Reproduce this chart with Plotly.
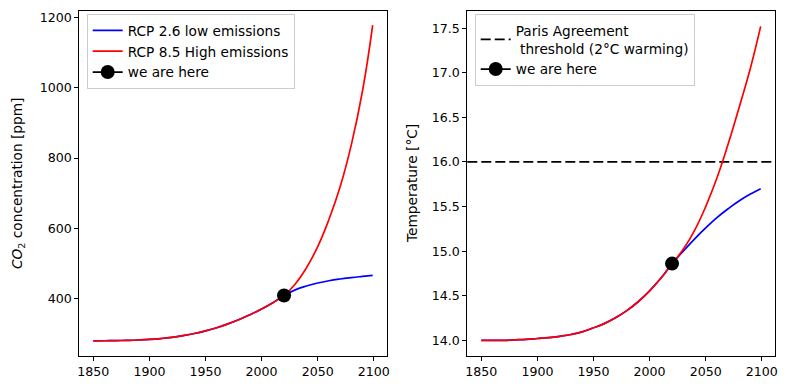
import plotly.graph_objects as go

# ---------------- data ----------------
years = [1850, 1860, 1870, 1880, 1890, 1900, 1910, 1920, 1930, 1940, 1950,
         1960, 1970, 1980, 1990, 2000, 2010, 2020,
         2030, 2040, 2050, 2060, 2070, 2080, 2090, 2099]

# shared historical part (1850-2020)
co2_hist = [280, 280.3, 280.8, 281.5, 282.5, 284, 286.5, 290, 295, 301, 308.5,
            317.5, 328.5, 341, 355, 370.5, 388.5, 409]
temp_hist = [14.00, 14.00, 14.00, 14.005, 14.01, 14.02, 14.03, 14.045, 14.065,
             14.095, 14.14, 14.19, 14.255, 14.335, 14.435, 14.555, 14.695, 14.86]

# scenario part (2030-2099)
co2_rcp26_future = [425, 436, 444.5, 451, 456, 460, 463.5, 466.5]
co2_rcp85_future = [442, 488, 548, 625, 718, 838, 992, 1178]
temp_rcp26_future = [15.00, 15.135, 15.26, 15.375, 15.475, 15.565, 15.64, 15.70]
temp_rcp85_future = [15.02, 15.23, 15.50, 15.82, 16.20, 16.62, 17.06, 17.52]

co2_rcp26 = co2_hist + co2_rcp26_future
co2_rcp85 = co2_hist + co2_rcp85_future
temp_rcp26 = temp_hist + temp_rcp26_future
temp_rcp85 = temp_hist + temp_rcp85_future

now_year = 2020
now_co2 = co2_hist[-1]
now_temp = temp_hist[-1]

paris_threshold = 16.0

x_ticks = [1850, 1900, 1950, 2000, 2050, 2100]
co2_ticks = [400, 600, 800, 1000, 1200]
temp_ticks = [14.0, 14.5, 15.0, 15.5, 16.0, 16.5, 17.0, 17.5]

series_names = ["RCP 2.6 low emissions", "RCP 8.5 High emissions"]
here_name = "we are here"
paris_name = "Paris Agreement<br>\u00a0threshold (2°C warming)"

# ---------------- figure ----------------
FONT = "DejaVu Sans"
FS_TICK = 12.6
FS = 13.7
W, H = 788, 390
LW = 1.7

fig = go.Figure()

for xa, ya, ys, leg_show in [("x", "y", (co2_rcp26, co2_rcp85), True),
                             ("x2", "y2", (temp_rcp26, temp_rcp85), False)]:
    for vals, col, nm in zip(ys, ["blue", "red"], series_names):
        fig.add_trace(go.Scatter(
            x=years, y=vals, mode="lines", name=nm,
            line=dict(color=col, width=LW, shape="spline", smoothing=1.3),
            xaxis=xa, yaxis=ya, showlegend=leg_show, legend="legend"))

fig.add_trace(go.Scatter(
    x=[now_year], y=[now_co2], mode="lines+markers", name=here_name,
    marker=dict(color="black", size=14), line=dict(color="black", width=LW),
    xaxis="x", yaxis="y", legend="legend"))
fig.add_trace(go.Scatter(
    x=[now_year], y=[now_temp], mode="lines+markers", name=here_name,
    marker=dict(color="black", size=14), line=dict(color="black", width=LW),
    xaxis="x2", yaxis="y2", legend="legend2", legendrank=2))

fig.add_shape(type="line", xref="x2 domain", x0=0, x1=1, yref="y2",
              y0=paris_threshold, y1=paris_threshold,
              line=dict(color="black", width=LW, dash="10px,4px"),
              showlegend=True, legend="legend2", name=paris_name,
              legendrank=1, layer="below")

axis_common = dict(showline=True, linecolor="black", linewidth=1, mirror=True,
                   ticks="outside", ticklen=4, tickwidth=1, tickcolor="black",
                   showgrid=False, zeroline=False, automargin=False,
                   tickfont=dict(family=FONT, size=FS_TICK, color="black"))

x_dom1 = [79.3 / W, 386.7 / W]
x_dom2 = [467.3 / W, 774.7 / W]
y_dom = [1 - 356 / H, 1 - 10.7 / H]

legend_common = dict(xanchor="left", yanchor="top",
                     bgcolor="rgba(255,255,255,0.8)", bordercolor="#cccccc",
                     borderwidth=1, tracegroupgap=0,
                     font=dict(family=FONT, size=FS, color="black"))

fig.update_layout(
    width=W, height=H,
    margin=dict(l=0, r=0, t=0, b=0),
    paper_bgcolor="white", plot_bgcolor="white",
    font=dict(family=FONT, size=FS, color="black"),
    xaxis=dict(domain=x_dom1, range=[1837.5, 2111.5], tickvals=x_ticks,
               anchor="y", **axis_common),
    yaxis=dict(domain=y_dom, range=[237, 1219], tickvals=co2_ticks,
               anchor="x", **axis_common),
    xaxis2=dict(domain=x_dom2, range=[1837.5, 2111.5], tickvals=x_ticks,
                anchor="y2", **axis_common),
    yaxis2=dict(domain=y_dom, range=[13.824, 17.696], tickvals=temp_ticks,
                tickformat=".1f", anchor="x2", **axis_common),
    legend=dict(x=86.7 / W, y=1 - 14.0 / H, **legend_common),
    legend2=dict(x=474.7 / W, y=1 - 14.0 / H, **legend_common),
    annotations=[
        dict(text="<i>CO</i><sub>2</sub> concentration [ppm]", x=18 / W,
             y=1 - 184 / H, xref="paper", yref="paper", textangle=-90,
             xanchor="center", yanchor="middle",
             showarrow=False, font=dict(family=FONT, size=FS, color="black")),
        dict(text="Temperature [°C]", x=412 / W, y=1 - 184 / H,
             xref="paper", yref="paper", textangle=-90,
             xanchor="center", yanchor="middle", showarrow=False,
             font=dict(family=FONT, size=FS, color="black")),
    ],
)

fig.write_html(
    "out.html",
    config={"displayModeBar": False},
    post_script="document.body.style.margin='0';document.body.style.padding='0';"
                "document.body.style.overflow='hidden';")
